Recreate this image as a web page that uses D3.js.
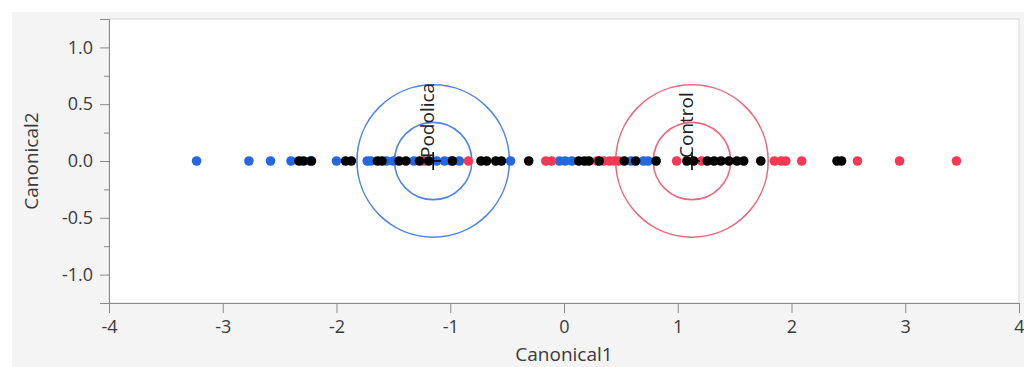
<!DOCTYPE html>
<html>
<head>
  <title>Canonical plot</title>
  <script src="https://d3js.org/d3.v7.min.js"></script>
  <style>
    body { margin: 0; background: #fff; }
    text { font-family: "Open Sans", "Noto Sans", sans-serif; fill: #3a3a3a; }
  </style>
</head>
<body>
  <div id="chart"></div>
  <script>
    // Canonical1 scores per colour group (Canonical2 is 0 for every row)
    const bluePts = [-3.23, -2.77, -2.58, -2.40, -2.23, -2.00, -1.73, -1.70, -1.56, -1.50, -1.32,
                     -1.12, -1.05, -0.99, -0.92, -0.47, -0.04, 0.01, 0.07, 0.59, 0.70, 0.74];
    const redPts = [-1.23, -0.84, -0.16, -0.11, 0.29, 0.35, 0.40, 0.44, 0.48, 0.99, 1.21,
                    1.85, 1.91, 1.95, 2.09, 2.58, 2.95, 3.45];
    const blackPts = [-2.33, -2.29, -2.22, -1.92, -1.87, -1.64, -1.60, -1.45, -1.39, -1.27, -1.19,
                      -0.98, -0.73, -0.68, -0.60, -0.55, -0.31, 0.13, 0.18, 0.22, 0.31, 0.53,
                      0.63, 0.81, 1.08, 1.14, 1.26, 1.32, 1.38, 1.45, 1.52, 1.58, 1.73, 2.40, 2.44];

    // group centroids and their confidence circles
    const groups = ["Podolica", "Control"];
    const centroidX = [-1.15, 1.125];
    const centroidY = [0, 0];
    const innerR = [0.34, 0.34];
    const outerR = [0.67, 0.67];

    const xTicks = [-4, -3, -2, -1, 0, 1, 2, 3, 4];
    const yTicks = [-1.0, -0.5, 0.0, 0.5, 1.0];
    const yMinor = [-1.25, -0.75, -0.25, 0.25, 0.75, 1.25];

    const W = 1024, H = 367;
    const svg = d3.select("#chart").append("svg")
      .attr("width", W).attr("height", H);

    // grey panel
    svg.append("rect").attr("x", 12).attr("y", 12).attr("width", W - 12).attr("height", H - 12)
      .attr("fill", "#f4f4f4");

    const x = d3.scaleLinear().domain([-4, 4]).range([109, 1019]);
    const y = d3.scaleLinear().domain([-1.25, 1.25]).range([303, 19]);

    // plot frame
    svg.append("rect")
      .attr("x", x(-4)).attr("y", y(1.25))
      .attr("width", x(4) - x(-4)).attr("height", y(-1.25) - y(1.25))
      .attr("fill", "#fff").attr("stroke", "#d8d8d8");

    const groupColor = ["#4f86ea", "#f2687a"];

    // confidence circles
    groups.forEach((g, i) => {
      [innerR[i], outerR[i]].forEach(r => {
        svg.append("circle")
          .attr("cx", x(centroidX[i])).attr("cy", y(centroidY[i]))
          .attr("r", x(centroidX[i] + r) - x(centroidX[i]))
          .attr("fill", "none").attr("stroke", groupColor[i]).attr("stroke-width", 1.6);
      });
    });

    // points
    const sets = [
      { pts: bluePts, color: "#2368e0" },
      { pts: redPts, color: "#f23a55" },
      { pts: blackPts, color: "#000" }
    ];
    sets.forEach(s => {
      svg.append("g").selectAll("circle").data(s.pts).enter().append("circle")
        .attr("cx", d => x(d)).attr("cy", y(0)).attr("r", 4.8)
        .attr("fill", s.color);
    });

    // centroid markers and labels
    groups.forEach((g, i) => {
      const cx = x(centroidX[i]), cy = y(centroidY[i]);
      svg.append("path")
        .attr("d", `M${cx - 8},${cy}H${cx + 8}M${cx},${cy - 9}V${cy + 9}`)
        .attr("stroke", "#000").attr("stroke-width", 1.6);
      svg.append("text")
        .attr("transform", `translate(${cx + 1},${cy - 3}) rotate(-90)`)
        .style("font-size", "19px").style("fill", "#222")
        .text(g);
    });

    // axes
    const yAxis = svg.append("g").attr("transform", `translate(${x(-4)},0)`)
      .call(d3.axisLeft(y).tickValues(yTicks).tickFormat(d3.format(".1f")).tickSize(9).tickPadding(7));
    svg.append("g").attr("transform", `translate(${x(-4)},0)`)
      .call(d3.axisLeft(y).tickValues(yMinor).tickFormat("").tickSize(5))
      .select(".domain").remove();

    const xAxis = svg.append("g").attr("transform", `translate(0,${y(-1.25)})`)
      .call(d3.axisBottom(x).tickValues(xTicks).tickFormat(d3.format("d")).tickSize(10).tickPadding(7));

    [yAxis, xAxis].forEach(a => {
      a.selectAll(".domain").attr("stroke", "#8a8a8a");
      a.selectAll("text").style("font-size", "18px").style("fill", "#3a3a3a")
        .style("font-family", "'Open Sans', 'Noto Sans', sans-serif");
    });
    svg.selectAll(".tick line").attr("stroke", "#8a8a8a");
    // hyphen minus like the original
    xAxis.selectAll("text").text(d => d < 0 ? "-" + Math.abs(d) : d);
    yAxis.selectAll("text").text(d => (d < 0 ? "-" : "") + Math.abs(d).toFixed(1));

    // axis titles
    svg.append("text")
      .attr("x", x(0)).attr("y", 361)
      .attr("text-anchor", "middle").style("font-size", "19px")
      .text("Canonical1");
    svg.append("text")
      .attr("transform", `translate(38,${y(0)}) rotate(-90)`)
      .attr("text-anchor", "middle").style("font-size", "19px")
      .text("Canonical2");
  </script>
</body>
</html>
